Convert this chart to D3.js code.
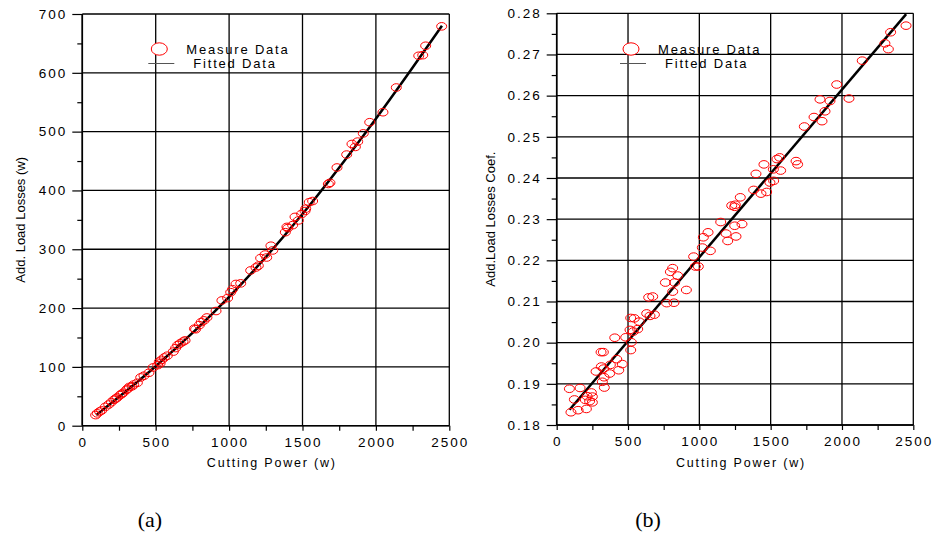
<!DOCTYPE html>
<html>
<head>
<meta charset="utf-8">
<script src="https://cdn.jsdelivr.net/npm/d3@7"></script>
<style>
  body { margin:0; background:#fff; }
  text { font-family: "Liberation Sans", Arial, sans-serif; }
</style>
</head>
<body>
<div class="chart"></div>
<script>
// ---- data ----
const powerA = [2448,2339,2319,2292,2139,2048,1958,1914,1876,1837,1860,1801,1735,1687,1676,1569,1546,1522,1517,1494,1449,1472,1433,1394,1383,1285,
  1297,1245,1256,1215,1199,1183,1147,1079,1047,1024,1011,990,951,911,849,829,810,797,772,764,686,667,650,636,579,559,541,525,514,482,454,420,398,375,
  339,321,301,279,257,238,216,198,157,132,102,91,118,180,228,268,310,350,530,620,700,1400];
const lossA = [679,646,630,629,575,533,516,497,483,479,474,461,439,413,411,382,380,369,365,360,355,349,341,338,329,306,
  298,291,286,285,272,269,264,242,241,232,227,217,213,195,184,179,176,171,164,165,143,140,137,132,119,116,112,109,103,99,90,85,82,73,
  67,66,61,56,52,48,44,40,32,26,21,18,24,36,46,54,63,70,106,126,145,336];

const powerB = [2449,2341,2301,2325,2142,1963,2049,1846,1916,1881,1804,1860,1736,1563,1544,1678,1689,1453,1397,1519,1570,1521,1495,1287,1381,1432,
  1472,1227,1252,1248,1150,1299,1248,1061,1187,1028,1257,1199,1021,1077,960,972,993,813,797,848,762,827,813,909,645,673,771,822,631,685,654,519,
  544,579,514,537,568,407,484,523,519,311,327,421,376,460,313,329,435,371,276,332,320,334,89,164,124,243,213,250,201,231,250,150,208,100];
const coefB = [0.2770,0.2754,0.2727,0.2713,0.2685,0.2627,0.2593,0.2591,0.2587,0.2562,0.2548,0.2538,0.2525,0.2450,0.2446,0.2441,0.2433,0.2433,0.2410,0.2421,0.2418,0.2393,0.2389,0.2353,0.2371,0.2362,
  0.2366,0.2333,0.2335,0.2330,0.2293,0.2288,0.2284,0.2268,0.2265,0.2256,0.2258,0.2247,0.2231,0.2223,0.2209,0.2185,0.2185,0.2181,0.2172,0.2163,0.2146,0.2146,0.2124,0.2128,0.2110,0.2112,0.2096,0.2097,0.2071,0.2068,0.2065,0.2060,
  0.2059,0.2051,0.2031,0.2027,0.2033,0.2012,0.2013,0.2001,0.1982,0.1977,0.1977,0.1960,0.1946,0.1948,0.1942,0.1937,0.1933,0.1925,0.1930,0.1916,0.1905,0.1891,0.1888,0.1890,0.1862,0.1879,0.1870,0.1869,0.1861,0.1858,0.1855,0.1836,0.1839,0.1831];

const fitPowerA = [95,500,1000,1500,2000,2450];
const fitLossA = [18,101,219,360,522,680];
const fitPowerB = [90,2450];
const fitCoefB = [0.1837,0.2798];

const xTicks = [0,500,1000,1500,2000,2500];
const yTicksA = [0,100,200,300,400,500,600,700];
const yTicksB = [0.18,0.19,0.20,0.21,0.22,0.23,0.24,0.25,0.26,0.27,0.28];

const width = 946, height = 533;

let svg = d3.select('.chart').append('svg')
    .attr('width', width)
    .attr('height', height);

function panel(opt) {
    const x = d3.scaleLinear().domain([0,2500]).range([opt.left, opt.right]);
    const y = d3.scaleLinear().domain(opt.yDomain).range([opt.bottom, opt.top]);
    const g = svg.append('g');

    // grid
    xTicks.forEach(d => {
        g.append('line')
            .attr('x1', x(d)).attr('x2', x(d))
            .attr('y1', opt.top).attr('y2', opt.bottom)
            .attr('stroke', '#000').attr('stroke-width', 1.3);
    });
    opt.yTicks.forEach(d => {
        g.append('line')
            .attr('x1', opt.left).attr('x2', opt.right)
            .attr('y1', y(d)).attr('y2', y(d))
            .attr('stroke', '#000').attr('stroke-width', 1.3);
    });

    // axes
    const X = g.append('g').attr('transform', `translate(0,${opt.bottom})`)
        .call(d3.axisBottom(x).tickValues(d3.range(0, 2501, 250)).tickSize(5).tickFormat(''));
    X.select('.domain').remove();
    X.selectAll('line').attr('stroke', '#000').attr('stroke-width', 1.2);

    const Ym = g.append('g').attr('transform', `translate(${opt.left},0)`)
        .call(d3.axisLeft(y).tickValues(opt.yMinor).tickSize(5).tickFormat(''));
    Ym.select('.domain').remove();
    Ym.selectAll('line').attr('stroke', '#000').attr('stroke-width', 1.2);

    const Y = g.append('g').attr('transform', `translate(${opt.left},0)`)
        .call(d3.axisLeft(y).tickValues(opt.yTicks).tickSize(10).tickPadding(5).tickFormat(opt.fmt));
    Y.select('.domain').remove();
    Y.selectAll('line').attr('stroke', '#000').attr('stroke-width', 1.2);
    Y.selectAll('text').attr('font-size', 13.5).attr('letter-spacing', '2px')
        .attr('fill', '#000').style('font-family', '"Liberation Sans", Arial, sans-serif');

    g.append('g').selectAll('text').data(xTicks).join('text')
        .attr('x', d => x(d) + 1).attr('y', opt.bottom + 21)
        .attr('text-anchor', 'middle')
        .attr('font-size', 13.5).attr('letter-spacing', '2px')
        .text(d => d);

    g.append('line').attr('x1', opt.left).attr('x2', opt.right)
        .attr('y1', opt.bottom).attr('y2', opt.bottom)
        .attr('stroke', '#000').attr('stroke-width', 1.6);
    g.append('line').attr('x1', opt.left).attr('x2', opt.left)
        .attr('y1', opt.top).attr('y2', opt.bottom)
        .attr('stroke', '#000').attr('stroke-width', 1.6);

    // titles
    g.append('text')
        .attr('x', (opt.left + opt.right) / 2 + 6).attr('y', 467)
        .attr('text-anchor', 'middle')
        .attr('font-size', 12.5).attr('letter-spacing', '1.8px')
        .text('Cutting Power (w)');
    g.append('text')
        .attr('transform', `translate(${opt.yTitleX},${(opt.top + opt.bottom) / 2}) rotate(-90)`)
        .attr('text-anchor', 'middle')
        .attr('font-size', 13)
        .text(opt.yTitle);

    // fitted line
    const fit = d3.line()
        .x(d => x(d[0]))
        .y(d => y(d[1]))
        .curve(d3.curveMonotoneX);
    g.append('path')
        .datum(d3.zip(opt.fitX, opt.fitY))
        .attr('d', fit)
        .attr('fill', 'none')
        .attr('stroke', '#000')
        .attr('stroke-width', 2.5);

    // points
    g.append('g').selectAll('ellipse').data(d3.zip(opt.px, opt.py)).join('ellipse')
        .attr('cx', d => x(d[0])).attr('cy', d => y(d[1]))
        .attr('rx', 5).attr('ry', 3.8)
        .attr('fill', 'none')
        .attr('stroke', '#ff0000')
        .attr('stroke-width', 1);

    // legend
    const lg = opt.legend;
    g.append('ellipse').attr('cx', lg.x).attr('cy', 49).attr('rx', 8).attr('ry', 6.2)
        .attr('fill', '#fff').attr('stroke', '#ff0000').attr('stroke-width', 1);
    g.append('text').attr('x', lg.x + 27).attr('y', 53.5)
        .attr('font-size', 13).attr('letter-spacing', '1.8px').text('Measure Data');
    g.append('line').attr('x1', lg.x - 11).attr('x2', lg.x + 15)
        .attr('y1', 63.5).attr('y2', 63.5)
        .attr('stroke', '#555').attr('stroke-width', 1);
    g.append('text').attr('x', lg.x + 34).attr('y', 68)
        .attr('font-size', 13).attr('letter-spacing', '1.8px').text('Fitted Data');

    // caption
    svg.append('text')
        .attr('x', opt.capX).attr('y', 527)
        .attr('text-anchor', 'middle')
        .style('font-family', '"Liberation Serif", "Times New Roman", serif')
        .attr('font-size', 22)
        .text(opt.caption);
}

panel({
    left: 82.3, right: 449.3, top: 14, bottom: 425.7,
    yDomain: [0,700], yTicks: yTicksA, yMinor: d3.range(50, 700, 100),
    fmt: d3.format('d'),
    yTitle: 'Add. Load Losses (w)', yTitleX: 25,
    px: powerA, py: lossA, fitX: fitPowerA, fitY: fitLossA,
    legend: {x: 159.3}, caption: '(a)', capX: 150
});

panel({
    left: 556.7, right: 913.3, top: 13.3, bottom: 425,
    yDomain: [0.18,0.28], yTicks: yTicksB, yMinor: d3.range(0.185, 0.28, 0.01),
    fmt: d3.format('.2f'),
    yTitle: 'Add.Load Losses Coef.', yTitleX: 495,
    px: powerB, py: coefB, fitX: fitPowerB, fitY: fitCoefB,
    legend: {x: 631}, caption: '(b)', capX: 648
});
</script>
</body>
</html>
